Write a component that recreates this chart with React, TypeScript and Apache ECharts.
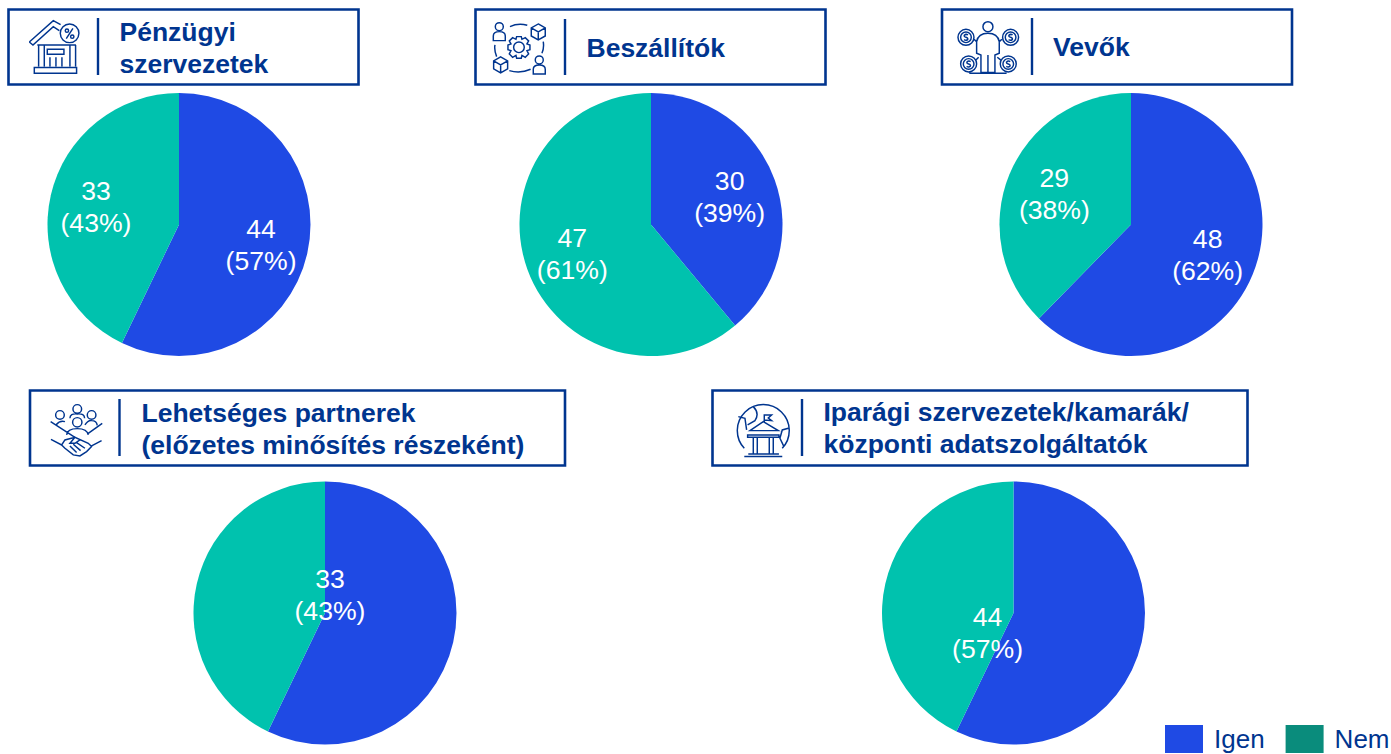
import React, { useEffect, useRef } from "react";
import * as echarts from "echarts";

const categories = ["Igen", "Nem"];
const financial = [44, 33];
const suppliers = [30, 47];
const customers = [48, 29];
const partners = [44, 33];
const industry = [44, 33];

const BLUE = "#1F4AE4";
const TEAL = "#00C2AE";
const LEGEND_TEAL = "#0A8C7C";
const NAVY = "#00358F";
const FONT = "'Liberation Sans', Arial, sans-serif";

const circle = (cx: number, cy: number, r: number) =>
  `M${cx - r} ${cy} a${r} ${r} 0 1 0 ${2 * r} 0 a${r} ${r} 0 1 0 ${-2 * r} 0 `;
const cube = (x: number, y: number) =>
  `M${x} ${y - 24} L${x + 21} ${y - 12} V${y + 12} L${x} ${y + 24} L${x - 21} ${y + 12} V${y - 12} Z M${x - 21} ${y - 12} L${x} ${y} L${x + 21} ${y - 12} M${x} ${y} V${y + 24} `;
const person = (x: number, y: number) =>
  circle(x, y, 12) + `M${x - 18} ${y + 42} V${y + 28} Q${x - 18} ${y + 15} ${x} ${y + 15} Q${x + 18} ${y + 15} ${x + 18} ${y + 28} V${y + 42} Z `;
const coin = (x: number, y: number) =>
  circle(x, y, 24) + circle(x, y, 16) +
  `M${x + 6} ${y - 7} Q${x} ${y - 11} ${x - 5} ${y - 6} Q${x - 6} ${y - 1} ${x} ${y} Q${x + 7} ${y + 2} ${x + 5} ${y + 7} Q${x} ${y + 11} ${x - 6} ${y + 7} `;

const gearTeeth = "M140 110 H154 L156 118 L166 113 L176 123 L171 132 L180 135 V149 L171 152 L176 162 L166 172 L156 166 L154 175 H140 L138 166 L128 172 L118 162 L123 152 L114 149 V135 L123 132 L118 123 L128 113 L138 118 Z ";

const iconPaths: Record<string, string> = {
  iconBank:
    "M88 126 L160 62 L182 74 M88 126 L99 135 L160 80 L178 92 " + circle(209, 100, 28) + circle(201, 92, 5) + circle(217, 110, 5) +
    "M199 116 L219 85 M112 135 H228 M116 135 V200 M133 135 V200 M210 135 V200 M227 135 V200 M142 148 H192 V163 H142 Z M150 172 V200 M168 172 V200 M186 172 V200 M103 203 H230 V220 H103 Z",
  iconSupply:
    person(88, 80) + person(208, 180) + cube(205, 96) + cube(92, 195) + gearTeeth + circle(147, 142, 16) +
    "M120 80 Q145 68 172 76 M75 135 Q72 150 80 170 M220 125 Q223 145 216 160 M118 212 Q150 222 182 208",
  iconCustomer:
    circle(174, 80, 15) + coin(108, 112) + coin(242, 112) + coin(116, 192) + coin(235, 192) +
    "M140 125 Q145 100 174 100 Q203 100 208 125 V160 L195 165 V218 H153 V165 L140 160 Z M174 165 V218 M118 220 H230 M132 118 L140 125 M216 118 L208 125 M138 180 L146 172 M212 180 L202 172",
  iconPartner:
    circle(120, 105, 13) + circle(172, 87, 13) + circle(215, 105, 13) + circle(172, 127, 14) +
    "M92 125 L165 172 M247 130 L205 160 M150 115 Q150 100 172 102 Q194 100 194 115 M195 135 Q205 120 215 122 Q230 122 232 136 M108 135 Q120 120 135 125 M140 165 Q142 146 172 146 Q202 146 205 165 M93 178 L125 195 L135 180 L165 172 L205 190 L215 200 L200 215 L180 228 L160 225 L135 205 L125 195 M245 182 L215 198 M150 198 L170 218 M160 193 L182 212 M170 188 L195 205 M165 172 L150 190 L165 190 L180 180",
  iconGlobe:
    "M118 205 A78 78 0 1 1 232 205 M145 80 Q165 100 150 122 L128 135 M100 110 L120 115 L125 150 M250 145 L232 150 L225 175 L236 198 M135 152 L175 125 L220 152 Z M178 125 V105 L200 105 L190 114 L200 122 L178 120 M128 165 H222 V172 H128 Z M145 172 V222 M157 172 V222 M193 172 V222 M205 172 V222 M130 222 H222 M118 230 H232",
};
Object.entries(iconPaths).forEach(([name, d]) => {
  echarts.graphic.registerShape(name, echarts.graphic.extendPath(d, {}));
});

const panels = [
  { box: [8.5, 9.5, 350, 75], divider: [98, 18, 75], icon: "iconBank", crop: [0, 0], textX: 119.5, lines: ["Pénzügyi", "szervezetek"], y: [32, 64] },
  { box: [475.5, 9.5, 350, 75], divider: [565, 19, 75], icon: "iconSupply", crop: [470, 0], textX: 586.5, lines: ["Beszállítók"], y: [48] },
  { box: [942, 9.5, 350, 75], divider: [1032, 18, 75], icon: "iconCustomer", crop: [930, 0], textX: 1053, lines: ["Vevők"], y: [47] },
  { box: [30, 390.5, 535, 75], divider: [119.5, 399, 456], icon: "iconPartner", crop: [20, 380], textX: 141.5, lines: ["Lehetséges partnerek", "(előzetes minősítés részeként)"], y: [413, 445] },
  { box: [712.5, 390.5, 535, 75], divider: [802, 399, 456], icon: "iconGlobe", crop: [705, 380], textX: 823.5, lines: ["Iparági szervezetek/kamarák/", "központi adatszolgáltatók"], y: [412, 444] },
];

const pies = [
  { values: financial, center: [179, 224.5], show: [true, true], shift: [[15, 5], [-16, -2]] },
  { values: suppliers, center: [651, 224.5], show: [true, true], shift: [[14, -4], [-14, 6]] },
  { values: customers, center: [1131, 224.5], show: [true, true], shift: [[13, 5], [-13, -5]] },
  { values: partners, center: [325, 613], show: [false, true], shift: [[0, 0], [72, -3]] },
  { values: industry, center: [1013.5, 613], show: [true, false], shift: [[-93, 5], [0, 0]] },
];

export default function App() {
  const ref = useRef<HTMLDivElement>(null);
  useEffect(() => {
    const chart = echarts.init(ref.current!, undefined, { renderer: "svg" });
    const graphic: any[] = [];
    panels.forEach((p) => {
      graphic.push({
        type: "rect",
        shape: { x: p.box[0], y: p.box[1], width: p.box[2], height: p.box[3] },
        style: { fill: "#fff", stroke: NAVY, lineWidth: 2.6 },
      });
      graphic.push({
        type: "line",
        shape: { x1: p.divider[0], y1: p.divider[1], x2: p.divider[0], y2: p.divider[2] },
        style: { stroke: NAVY, lineWidth: 2.4 },
      });
      graphic.push({
        type: p.icon,
        x: p.crop[0],
        y: p.crop[1],
        scaleX: 1 / 3,
        scaleY: 1 / 3,
        style: { fill: "none", stroke: NAVY, lineWidth: 4.4 },
      });
      p.lines.forEach((t, i) => {
        graphic.push({
          type: "text",
          x: p.textX,
          y: p.y[i],
          style: { text: t, fill: NAVY, font: `bold 26.5px ${FONT}`, textAlign: "left", textVerticalAlign: "middle" },
        });
      });
    });
    chart.setOption({
      animation: false,
      backgroundColor: "#fff",
      legend: {
        left: 1165,
        top: 725,
        padding: 0,
        itemWidth: 38,
        itemHeight: 28,
        itemGap: 21,
        icon: "rect",
        selectedMode: false,
        textStyle: { color: NAVY, fontFamily: FONT, fontSize: 26, padding: [8, 0, 0, 6] },
        data: [
          { name: categories[0], itemStyle: { color: BLUE } },
          { name: categories[1], itemStyle: { color: LEGEND_TEAL } },
        ],
      },
      graphic,
      series: pies.map((p) => ({
        type: "pie",
        center: p.center,
        radius: 131.5,
        startAngle: 90,
        silent: true,
        percentPrecision: 0,
        color: [BLUE, TEAL],
        labelLine: { show: false },
        label: {
          position: "inside",
          formatter: "{c}\n({d}%)",
          color: "#fff",
          fontFamily: FONT,
          fontSize: 26.6,
          lineHeight: 32,
        },
        labelLayout: (params: any) => ({
          dx: p.shift[params.dataIndex][0],
          dy: p.shift[params.dataIndex][1],
        }),
        data: p.values.map((v, i) => ({
          name: categories[i],
          value: v,
          label: { show: p.show[i] },
        })),
      })),
    });
    return () => chart.dispose();
  }, []);
  return <div ref={ref} style={{ position: "fixed", left: 0, top: 0, width: 1391, height: 754 }} />;
}
